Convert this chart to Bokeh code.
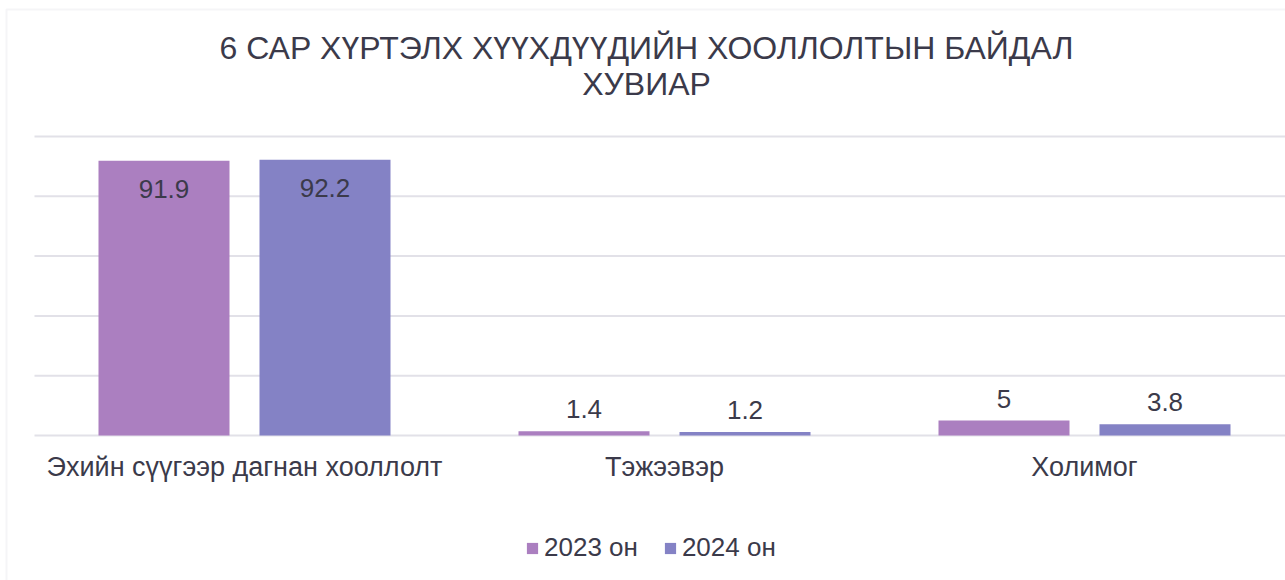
from bokeh.plotting import figure
from bokeh.models import ColumnDataSource, Range1d, Label, Legend, LegendItem, BoxAnnotation
from bokeh.core.properties import value
from bokeh.embed import file_html
from bokeh.resources import INLINE

categories = ["Эхийн сүүгээр дагнан хооллолт", "Тэжээвэр", "Холимог"]
series_names = ["2023 он", "2024 он"]
values_2023 = [91.9, 1.4, 5]
values_2024 = [92.2, 1.2, 3.8]
grid_ticks = [0, 20, 40, 60, 80, 100]
title_lines = ["6 САР ХҮРТЭЛХ ХҮҮХДҮҮДИЙН ХООЛЛОЛТЫН БАЙДАЛ", "ХУВИАР"]

FONT = "Liberation Sans"
TXT = "#3b3a4a"
colors = ["#ab7fc0", "#8482c5"]

W, H = 1285, 580
PX = 2.99      # pixels per value unit
CW = 420       # pixels per category
LEFT = 34      # plot area left edge
BASE = 435     # baseline
n = len(categories)

p = figure(width=W, height=H, output_backend="svg", toolbar_location=None,
           x_range=Range1d(-LEFT / CW, (W - LEFT) / CW),
           y_range=Range1d(-(H - BASE) / PX, BASE / PX),
           min_border_left=0, min_border_right=0, min_border_top=0, min_border_bottom=0)
p.outline_line_color = None
p.background_fill_color = "white"
p.border_fill_color = "white"
p.xaxis.visible = False
p.yaxis.visible = False
p.xgrid.visible = False
p.ygrid.visible = False

# chart border
p.add_layout(BoxAnnotation(left=6, right=W + 20, top=H - 9, bottom=-20,
                           left_units="screen", right_units="screen",
                           top_units="screen", bottom_units="screen",
                           fill_alpha=0, line_color="#dedde5", line_width=2))

# horizontal gridlines across the plot area
p.segment(x0=[0] * len(grid_ticks), x1=[n + 0.03] * len(grid_ticks), y0=grid_ticks, y1=grid_ticks,
          line_color="#e2e1e8", line_width=2)

centers = [i + 0.5 for i in range(n)]
bw = 131 / CW
off = (131 + 30) / 2 / CW

renderers = []
for k, (vals, c) in enumerate(zip([values_2023, values_2024], colors)):
    xs = [x + (-off if k == 0 else off) for x in centers]
    src = ColumnDataSource(dict(x=xs, top=vals, label=[f"{v:g}" for v in vals],
                                yoff=[28 if v > 90 else -22 for v in vals]))
    r = p.vbar(x="x", top="top", width=bw, source=src, fill_color=c, line_color=None)
    renderers.append(r)
    p.text(x="x", y="top", text="label", source=src, y_offset="yoff",
           text_align="center", text_baseline="middle",
           text_font=value(FONT), text_font_size="26px", text_color=TXT)

cat_src = ColumnDataSource(dict(x=centers, y=[0] * n, text=categories))
p.text(x="x", y="y", text="text", source=cat_src, y_offset=31,
       text_align="center", text_baseline="middle",
       text_font=value(FONT), text_font_size="27px", text_color=TXT)

for t, yc in zip(title_lines, [H - 47.5, H - 83.5]):
    p.add_layout(Label(x=646, y=yc, x_units="screen", y_units="screen", text=t,
                       text_align="center", text_baseline="middle",
                       text_font=FONT, text_font_size="32px", text_color=TXT))

legend = Legend(items=[LegendItem(label=s, renderers=[r]) for s, r in zip(series_names, renderers)],
                orientation="horizontal", location=(525, 17),
                glyph_width=14, glyph_height=14, label_standoff=5, spacing=25,
                padding=0, margin=0, border_line_color=None, background_fill_alpha=0,
                label_text_font=FONT, label_text_font_size="26px", label_text_color=TXT)
p.add_layout(legend, "center")

open("out.html", "w").write(file_html(p, INLINE))
